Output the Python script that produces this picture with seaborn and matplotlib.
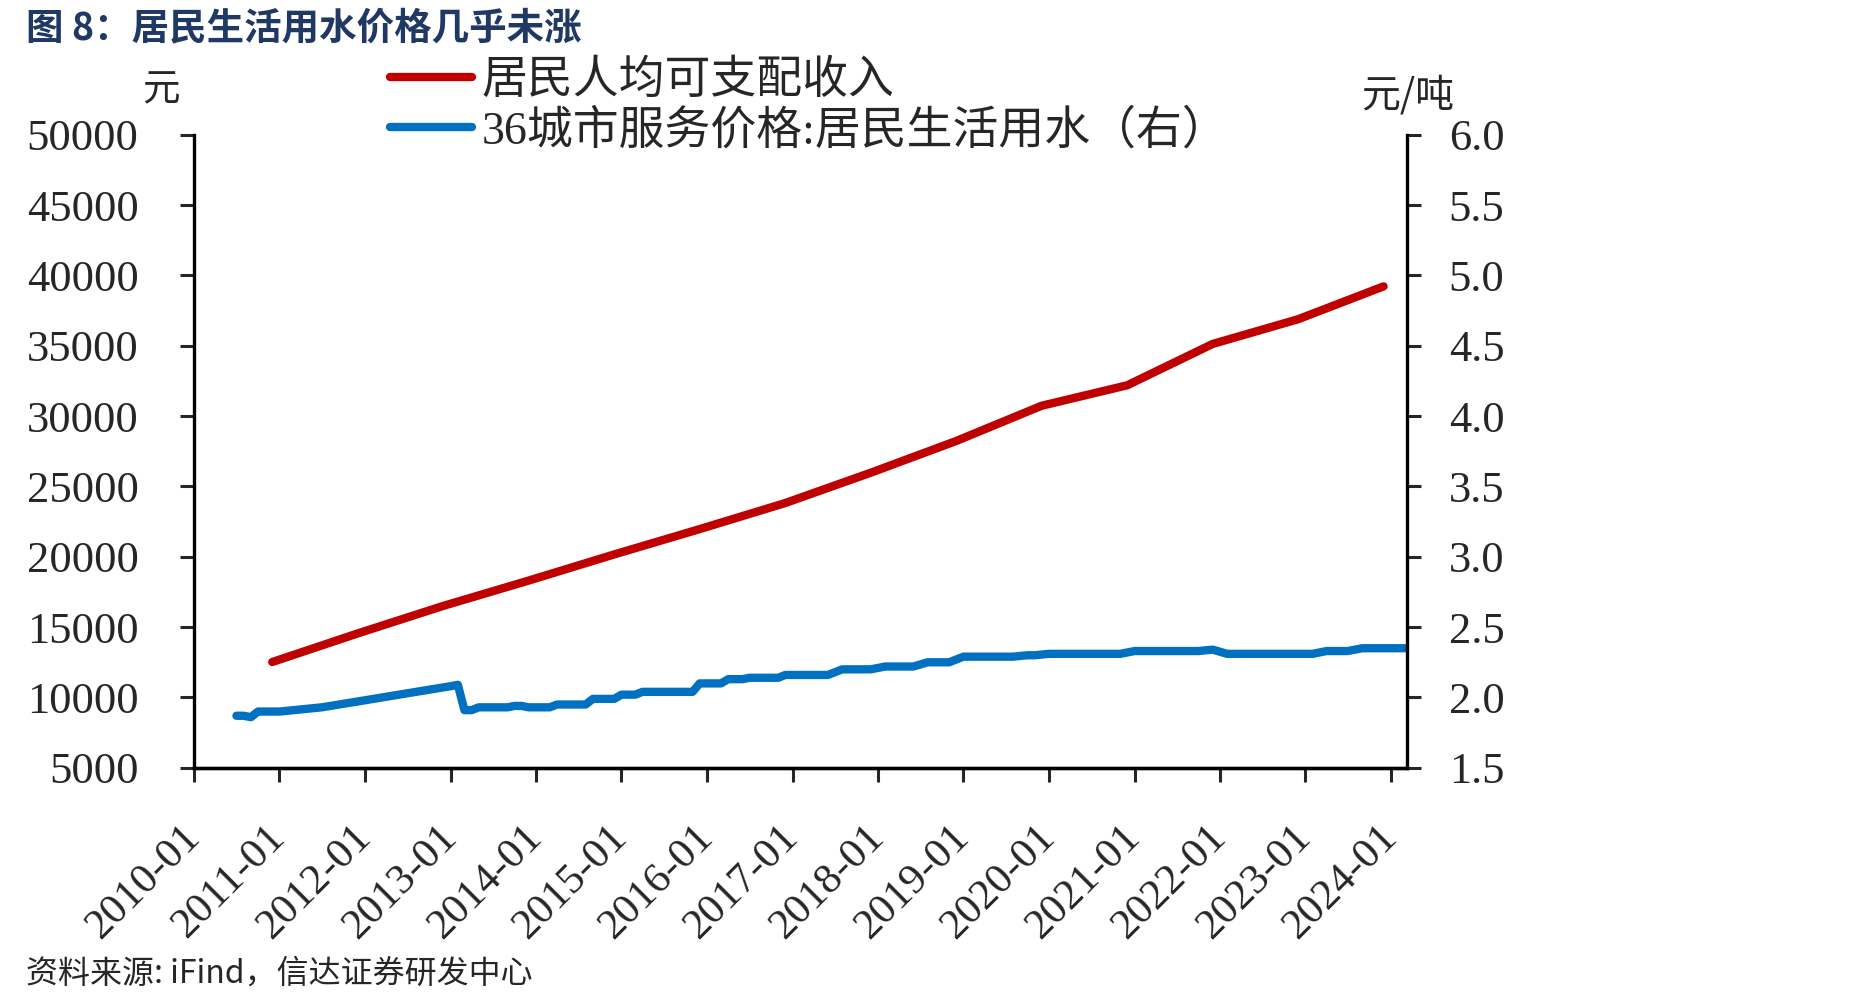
import numpy as np
import pandas as pd
import matplotlib.pyplot as plt
import seaborn as sns

# 居民人均可支配收入 (元), annual, plotted at December
red_dates = ['2010-12', '2011-12', '2012-12', '2013-12', '2014-12', '2015-12', '2016-12',
             '2017-12', '2018-12', '2019-12', '2020-12', '2021-12', '2022-12', '2023-12']
red_vals = [12520, 14551, 16510, 18311, 20167, 21966, 23821,
            25974, 28228, 30733, 32189, 35128, 36883, 39218]

# 36城市服务价格:居民生活用水 (元/吨)
blue_dates = ['2010-07', '2010-08', '2010-09', '2010-10', '2011-01', '2011-07', '2012-01',
              '2012-07', '2013-01', '2013-02', '2013-03', '2013-04', '2013-05', '2013-09',
              '2013-10', '2013-11', '2013-12', '2014-03', '2014-04', '2014-08', '2014-09',
              '2014-12', '2015-01', '2015-03', '2015-04', '2015-11', '2015-12', '2016-03',
              '2016-04', '2016-06', '2016-07', '2016-11', '2016-12', '2017-06', '2017-08',
              '2017-12', '2018-02', '2018-06', '2018-08', '2018-11', '2019-01', '2019-08',
              '2019-10', '2019-11', '2020-01', '2020-11', '2021-01', '2021-10', '2021-12',
              '2022-02', '2023-02', '2023-04', '2023-07', '2023-09', '2024-03']
blue_vals = [1.87, 1.87, 1.86, 1.90, 1.90, 1.93, 1.98,
             2.03, 2.08, 2.09, 1.91, 1.91, 1.93, 1.93,
             1.94, 1.94, 1.93, 1.93, 1.95, 1.95, 1.99,
             1.99, 2.02, 2.02, 2.04, 2.04, 2.10, 2.10,
             2.13, 2.13, 2.14, 2.14, 2.16, 2.16, 2.20,
             2.20, 2.22, 2.22, 2.25, 2.25, 2.29, 2.29,
             2.30, 2.30, 2.31, 2.31, 2.33, 2.33, 2.34,
             2.31, 2.31, 2.33, 2.33, 2.35, 2.35]

xtick_labels = ['2010-01', '2011-01', '2012-01', '2013-01', '2014-01', '2015-01', '2016-01',
                '2017-01', '2018-01', '2019-01', '2020-01', '2021-01', '2022-01', '2023-01',
                '2024-01']
left_ticks = [5000, 10000, 15000, 20000, 25000, 30000, 35000, 40000, 45000, 50000]
right_ticks = [1.5, 2.0, 2.5, 3.0, 3.5, 4.0, 4.5, 5.0, 5.5, 6.0]

sns.set_style('ticks')
plt.rcParams['font.family'] = ['Liberation Serif', 'Noto Sans CJK SC']
plt.rcParams['axes.unicode_minus'] = False

red_df = pd.DataFrame({'date': pd.to_datetime(red_dates), 'val': red_vals})
blue_df = pd.DataFrame({'date': pd.to_datetime(blue_dates), 'val': blue_vals})

fig = plt.figure(figsize=(18.66, 10.05), dpi=100)
ax = fig.add_axes([0.104, 0.236, 0.650, 0.630])
ax2 = ax.twinx()

sns.lineplot(data=red_df, x='date', y='val', ax=ax, color='#C00000', lw=6,
             label='居民人均可支配收入', solid_capstyle='round')
sns.lineplot(data=blue_df, x='date', y='val', ax=ax2, color='#0070C0', lw=6,
             label='36城市服务价格:居民生活用水（右）', solid_capstyle='round')
ax.get_legend().remove()
ax2.get_legend().remove()

ax.set_xlim(pd.Timestamp('2010-01-01'), pd.Timestamp('2024-03-10'))
ax.set_ylim(5000, 50000)
ax2.set_ylim(1.5, 6.0)
ax.set_yticks(left_ticks)
ax.set_yticklabels([str(t) for t in left_ticks])
ax2.set_yticks(right_ticks)
ax2.set_yticklabels([f'{t:.1f}' for t in right_ticks])
ax.set_xticks(pd.to_datetime(xtick_labels))
ax.set_xticklabels(xtick_labels, rotation=45, ha='right', va='center',
                   rotation_mode='anchor')
ax.set_xlabel('')
ax.set_ylabel('')
ax2.set_ylabel('')

for a in (ax, ax2):
    a.spines['top'].set_visible(False)
    for s in ('left', 'right', 'bottom'):
        a.spines[s].set_linewidth(2.4)
        a.spines[s].set_color('black')
ax2.spines['left'].set_visible(False)
ax.spines['right'].set_visible(False)

ax.tick_params(axis='y', direction='out', length=10, width=2.2, labelsize=32, pad=30)
ax.tick_params(axis='x', direction='out', length=10, width=2.2, labelsize=31, pad=36)
ax2.tick_params(axis='y', direction='out', length=10, width=2.2, labelsize=32, pad=20)

fig.text(0.0863, 0.911, '元', fontsize=27, ha='center', va='center',
         family=['Noto Sans CJK SC'])
fig.text(0.7546, 0.905, '元/吨', fontsize=28, ha='center', va='center',
         family=['Noto Sans CJK SC'])

fig.text(0.0139, 0.972, '图 8：居民生活用水价格几乎未涨', fontsize=27, fontweight='bold',
         color='#1F3864', ha='left', va='center', family=['Noto Sans CJK SC'])
fig.text(0.0139, 0.031, '资料来源: iFind，信达证券研发中心', fontsize=23,
         ha='left', va='center', family=['Noto Sans CJK SC'])

h1 = ax.get_lines()[0]
h2 = ax2.get_lines()[0]
fig.legend([h1, h2], ['居民人均可支配收入', '36城市服务价格:居民生活用水（右）'],
           loc='upper left', bbox_to_anchor=(0.209, 0.940), frameon=False,
           fontsize=33, handlelength=1.8, handletextpad=0.2, labelspacing=0.15,
           borderpad=0, borderaxespad=0)

fig.savefig('out.png', dpi=100)
